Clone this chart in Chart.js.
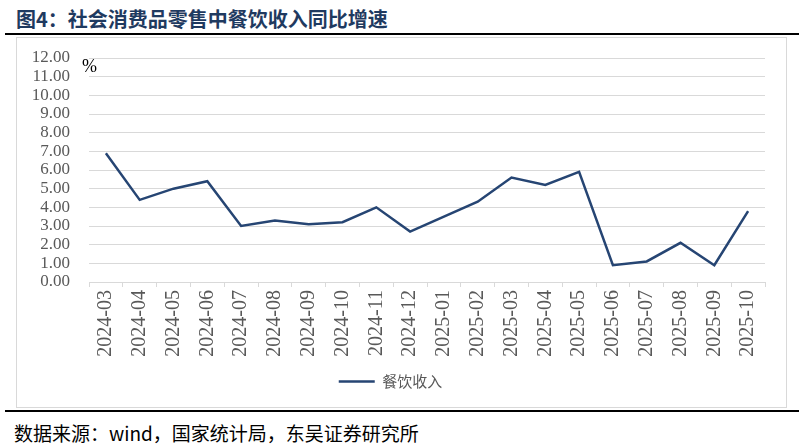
<!DOCTYPE html>
<html>
<head>
<meta charset="utf-8">
<script src="https://cdn.jsdelivr.net/npm/chart.js@4.4.1/dist/chart.umd.min.js"></script>
<style>
  body { margin: 0; width: 805px; height: 444px; background: #fff; position: relative; overflow: hidden; }
  #title { position: absolute; left: 16px; top: 4px; font: bold 20px "Noto Sans CJK SC", sans-serif; color: #1f3a60; white-space: nowrap; }
  .rule { position: absolute; left: 5px; width: 794px; height: 2px; background: #000; }
  #frame { position: absolute; left: 16px; top: 37px; width: 771px; height: 371px; border: 1px solid #d9d9d9; box-sizing: border-box; }
  #chart { position: absolute; left: 16px; top: 37px; }
  #unit { position: absolute; left: 82px; top: 56px; font: 18px "Liberation Serif", "Times New Roman", serif; color: #000; }
  #source { position: absolute; left: 14px; top: 419px; font: 19px "Noto Sans CJK SC", sans-serif; color: #000; white-space: nowrap; }
</style>
</head>
<body>
<div id="title">图4：社会消费品零售中餐饮收入同比增速</div>
<div class="rule" style="top:33px"></div>
<div id="frame"></div>
<canvas id="chart" width="771" height="371"></canvas>
<div id="unit">%</div>
<div class="rule" style="top:410px"></div>
<div id="source">数据来源：wind，国家统计局，东吴证券研究所</div>
<script>
// 월별 카테고리
const months = [
  '2024-03', '2024-04', '2024-05', '2024-06', '2024-07', '2024-08', '2024-09',
  '2024-10', '2024-11', '2024-12', '2025-01', '2025-02', '2025-03', '2025-04',
  '2025-05', '2025-06', '2025-07', '2025-08', '2025-09', '2025-10',
];
// 餐饮收入 同比 (%), 2025-01 은 1-2월 합산이라 값 없음
const cateringGrowth = [
  6.9, 4.4, 5.0, 5.4, 3.0, 3.3, 3.1, 3.2, 4.0, 2.7,
  null, 4.3, 5.6, 5.2, 5.9, 0.9, 1.1, 2.1, 0.9, 3.8,
];
const seriesName = '餐饮收入';
const yTicks = [0, 1, 2, 3, 4, 5, 6, 7, 8, 9, 10, 11, 12];

const lineColor = '#264573';
const gridColor = '#d9d9d9';
const tickColor = '#595959';
const serif = '"Liberation Serif", "Times New Roman", serif';

function drawChart() {
  const ctx = document.getElementById('chart').getContext('2d');
  new Chart(ctx, {
    type: 'line',
    data: {
      labels: months,
      datasets: [
        {
          label: seriesName,
          data: cateringGrowth,
          borderColor: lineColor,
          backgroundColor: lineColor,
          borderWidth: 2.5,
          pointRadius: 0,
          tension: 0,
          spanGaps: true,
        },
      ],
    },
    options: {
      responsive: false,
      animation: false,
      layout: { padding: { top: 21, right: 22, bottom: 9, left: 0 } },
      plugins: {
        tooltip: { enabled: false },
        legend: {
          position: 'bottom',
          labels: {
            usePointStyle: true,
            pointStyle: 'line',
            pointStyleWidth: 36,
            boxHeight: 15,
            padding: 10,
            color: tickColor,
            font: { family: '"Noto Sans CJK SC", sans-serif', size: 15 },
          },
        },
      },
      scales: {
        y: {
          min: yTicks[0],
          max: yTicks[yTicks.length - 1],
          afterBuildTicks: scale => {
            scale.ticks = yTicks.map(v => ({ value: v }));
          },
          afterFit: scale => {
            scale.width = 73;
          },
          ticks: {
            autoSkip: false,
            padding: 0,
            color: tickColor,
            font: { family: serif, size: 17 },
            callback: v => v.toFixed(2),
          },
          // 눈금 표시는 투명하게 두고 라벨 간격으로만 사용
          grid: {
            color: gridColor,
            lineWidth: 1,
            drawTicks: true,
            tickLength: 19,
            tickColor: 'rgba(0,0,0,0)',
          },
          border: { display: false },
        },
        x: {
          offset: true,
          afterFit: scale => {
            scale.height = 82;
          },
          ticks: {
            minRotation: 90,
            maxRotation: 90,
            autoSkip: false,
            padding: 3,
            color: tickColor,
            font: { family: serif, size: 20 },
          },
          grid: {
            offset: true,
            drawOnChartArea: false,
            tickLength: 5,
            color: gridColor,
          },
          border: { color: gridColor },
        },
      },
    },
  });
}

// 폰트 로드 후 그리기
Promise.all([
  document.fonts.load('17px "Liberation Serif"'),
  document.fonts.load('15px "Noto Sans CJK SC"', '餐饮收入'),
]).then(drawChart, drawChart);
</script>
</body>
</html>
